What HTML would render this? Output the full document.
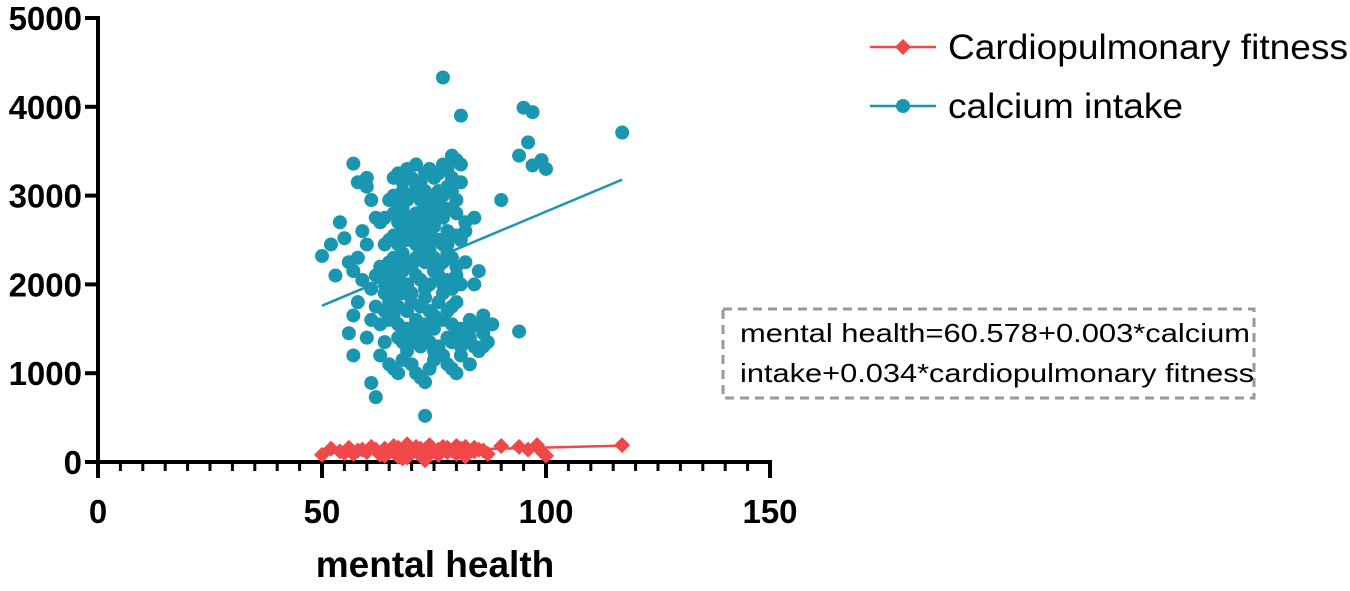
<!DOCTYPE html>
<html><head><meta charset="utf-8"><style>
body{margin:0;background:#fff;}
svg{display:block;font-family:"Liberation Sans",Arial,sans-serif;}
</style></head><body>
<svg id="chart" width="1350" height="591" viewBox="0 0 1350 591"></svg>
<script>
const yTicks=[0,1000,2000,3000,4000,5000];
const xTicks=[0,50,100,150];
const calcMH=[77,81,95,97,117,94,96,97,99,100,57,90,94,73,61,62,50,52,54,55,53,56,
58,60,60,61,62,59,60,58,57,59,61,58,57,56,57,60,61,62,63,64,63,65,66,67,68,69,70,71,72,73,74,75,76,77,78,79,80,81,82,83,84,85,86,83,
64,65,66,67,68,69,70,71,72,73,74,75,76,77,78,79,80,
64,65,66,67,68,69,70,71,72,73,74,75,76,77,78,79,80,81,
63,65,66,67,68,69,70,71,72,73,74,75,76,77,78,79,80,82,
64,65,66,67,68,69,70,71,72,73,74,75,76,77,78,79,81,
63,64,66,67,68,69,70,71,72,73,74,75,76,77,78,80,82,84,
65,66,67,68,69,70,71,72,73,74,75,76,77,78,79,80,
66,67,68,69,70,71,72,73,74,75,76,77,78,79,80,81,
67,68,69,70,71,72,73,74,75,76,78,79,80,81,83,85,86,87,
65,67,69,71,73,75,77,79,81,83,86,88,70,72,74,76,78,80,82,79,80,81,62,64,66,68,84,85];
const calcVal=[4330,3900,3990,3940,3710,3450,3600,3340,3400,3300,3360,2950,1470,520,890,730,2320,2450,2700,2520,2100,2250,
3150,3200,3100,2950,2750,2600,2450,2300,2150,2050,1950,1800,1650,1450,1200,1400,1600,1750,1550,1350,1200,1100,1050,1000,1150,1250,1100,1000,950,900,1050,1150,1300,1200,1100,1050,1000,1200,1350,1500,1300,1250,1300,1100,
1700,1800,1650,1750,1900,1700,1800,1600,1750,1850,1700,1650,1800,1900,1700,1750,1800,
2000,2100,1950,2050,2150,2000,1900,2100,2050,1950,2000,2150,2100,2000,2050,1950,2100,2000,
2200,2250,2300,2200,2350,2250,2200,2300,2350,2250,2400,2300,2200,2250,2350,2300,2200,2250,
2450,2500,2550,2450,2600,2500,2550,2450,2600,2500,2550,2650,2500,2450,2600,2550,2500,
2700,2750,2800,2700,2850,2750,2700,2800,2750,2850,2700,2800,2900,2750,2850,2800,2700,2750,
2950,3000,2900,3050,2950,3000,3100,2950,3050,3000,2900,3050,3000,3100,3050,2950,
3200,3250,3150,3300,3200,3350,3150,3250,3300,3200,3250,3350,3300,3200,3400,3150,
1400,1350,1300,1450,1350,1300,1400,1350,1250,1300,1400,1350,1450,1300,1400,1550,1450,1350,
1600,1550,1500,1450,1550,1500,1600,1550,1500,1600,1650,1550,2550,2600,2650,2500,2450,2550,2600,3450,3400,3350,2100,1900,1850,1950,2000,2150];
const cardioMH=[50,52,54,56,58,60,61,62,63,64,65,66,67,68,69,70,71,72,73,74,75,76,77,78,79,80,81,82,83,84,85,86,87,90,94,96,98,99,100,117,
55,57,59,63,65,67,68,70,72,73,74,76,78,80,82,84,69,71,64];
const cardioVal=[80,150,120,160,130,110,170,140,90,150,120,180,160,130,200,100,170,150,40,190,120,140,170,160,130,180,150,170,120,160,140,130,90,180,170,140,190,120,70,190,
100,90,140,80,110,60,40,120,70,20,100,80,110,90,60,120,50,150,70];
const regCalc=[[50,1760],[117,3180]];
const regCardio=[[50,100],[117,185]];

const NS='http://www.w3.org/2000/svg';
const svg=document.getElementById('chart');
const X0=98,X1=770,Y0=462,Y1=18;
const sx=v=>X0+(v-0)/(150-0)*(X1-X0);
const sy=v=>Y0-(v-0)/(5000-0)*(Y0-Y1);
function mk(t,a,p){const e=document.createElementNS(NS,t);for(const k in a)e.setAttribute(k,a[k]);(p||svg).appendChild(e);return e;}

const gAx=mk('g',{});


const ya=mk('line',{x1:X0,y1:Y1-2,x2:X0,y2:Y0,stroke:'#000','stroke-width':4},gAx);


const xa=mk('line',{x1:X0-2,y1:Y0,x2:X1+2,y2:Y0,stroke:'#000','stroke-width':4},gAx);


yTicks.forEach(v=>{
  const l=mk('line',{x1:X0-13,y1:sy(v),x2:X0,y2:sy(v),stroke:'#000','stroke-width':4},gAx);
  
  
  const t=mk('text',{x:X0-16,y:sy(v)+12,'text-anchor':'end','font-size':33,'font-weight':'bold'},gAx);
  t.textContent=v;
  
  
});
for(let v=5;v<150;v+=5){
  const l=mk('line',{x1:sx(v),y1:Y0,x2:sx(v),y2:Y0+9,stroke:'#000','stroke-width':3},gAx);
  
  
}
xTicks.forEach(v=>{
  const l=mk('line',{x1:sx(v),y1:Y0,x2:sx(v),y2:Y0+16,stroke:'#000','stroke-width':4},gAx);
  
  
  const t=mk('text',{x:sx(v),y:523,'text-anchor':'middle','font-size':33,'font-weight':'bold'},gAx);
  t.textContent=v;
  
  
});
const xt=mk('text',{x:435,y:577,'text-anchor':'middle','font-size':37,'font-weight':'bold'});
xt.textContent='mental health';



const gC=mk('g',{fill:'#1a96b0'});


calcMH.forEach((m,i)=>{
  if(calcVal[i]===undefined)return;
  const c=mk('circle',{cx:sx(m),cy:sy(calcVal[i]),r:7},gC);
  
  
});
const rl=mk('line',{x1:sx(regCalc[0][0]),y1:sy(regCalc[0][1]),x2:sx(regCalc[1][0]),y2:sy(regCalc[1][1]),stroke:'#1a96b0','stroke-width':2.5});



const gR=mk('g',{fill:'#f04848'});


cardioMH.forEach((m,i)=>{
  const x=sx(m),y=sy(cardioVal[i]);
  const d=mk('polygon',{points:`${x},${y-8} ${x+8},${y} ${x},${y+8} ${x-8},${y}`},gR);
  
  
});
const rl2=mk('line',{x1:sx(regCardio[0][0]),y1:sy(regCardio[0][1]),x2:sx(regCardio[1][0]),y2:sy(regCardio[1][1]),stroke:'#f04848','stroke-width':2.5});


</script>
<svg style="position:absolute;left:0;top:0" width="1350" height="591">
<g>
<line x1="870" y1="47" x2="936" y2="47" stroke="#f04848" stroke-width="2.5"/>
<polygon points="903,39 911,47 903,55 895,47" fill="#f04848"/>
<text x="948" y="59" font-size="35" textLength="400" lengthAdjust="spacingAndGlyphs" font-family="Liberation Sans, Arial, sans-serif">Cardiopulmonary fitness</text>
</g>
<g>
<line x1="870" y1="106" x2="936" y2="106" stroke="#1a96b0" stroke-width="2.5"/>
<circle cx="903" cy="106" r="7" fill="#1a96b0"/>
<text x="948" y="118" font-size="35" textLength="235" lengthAdjust="spacingAndGlyphs" font-family="Liberation Sans, Arial, sans-serif">calcium intake</text>
</g>
<g>
<rect x="723" y="309" width="531" height="89" fill="none" stroke="#999" stroke-width="3" stroke-dasharray="9,6"/>
<text x="740" y="342" font-size="26" textLength="510" lengthAdjust="spacingAndGlyphs" font-family="Liberation Sans, Arial, sans-serif">mental health=60.578+0.003*calcium</text>
<text x="740" y="382" font-size="26" textLength="514" lengthAdjust="spacingAndGlyphs" font-family="Liberation Sans, Arial, sans-serif">intake+0.034*cardiopulmonary fitness</text>
</g>
</svg>
</body></html>
